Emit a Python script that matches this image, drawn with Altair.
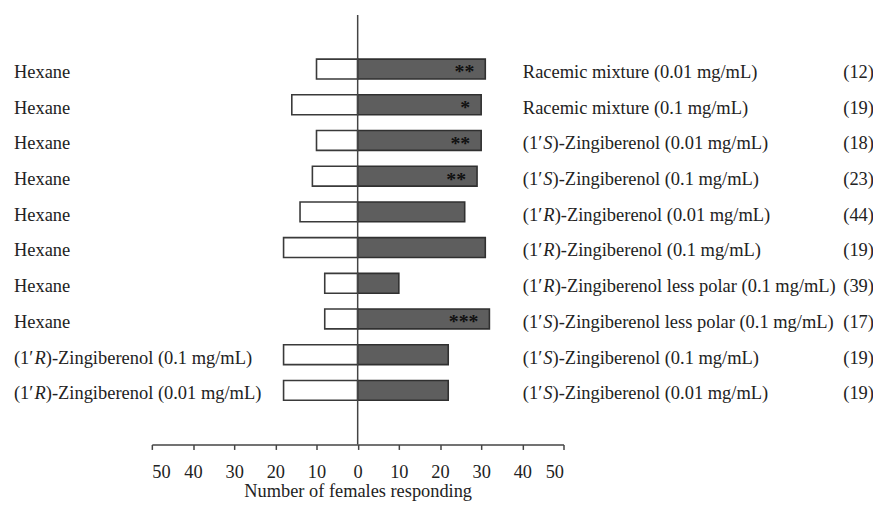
import altair as alt
import pandas as pd

rows = list(range(1, 11))
left_labels = ["Hexane"] * 8 + [
    "(1′R)-Zingiberenol (0.1 mg/mL)",
    "(1′R)-Zingiberenol (0.01 mg/mL)",
]
right_labels = [
    "Racemic mixture (0.01 mg/mL)",
    "Racemic mixture (0.1 mg/mL)",
    "(1′S)-Zingiberenol (0.01 mg/mL)",
    "(1′S)-Zingiberenol (0.1 mg/mL)",
    "(1′R)-Zingiberenol (0.01 mg/mL)",
    "(1′R)-Zingiberenol (0.1 mg/mL)",
    "(1′R)-Zingiberenol less polar (0.1 mg/mL)",
    "(1′S)-Zingiberenol less polar (0.1 mg/mL)",
    "(1′S)-Zingiberenol (0.1 mg/mL)",
    "(1′S)-Zingiberenol (0.01 mg/mL)",
]
counts = ["(12)", "(19)", "(18)", "(23)", "(44)", "(19)", "(39)", "(17)", "(19)", "(19)"]
left_values = [10, 16, 10, 11, 14, 18, 8, 8, 18, 18]
right_values = [31, 30, 30, 29, 26, 31, 10, 32, 22, 22]
signif = ["**", "*", "**", "**", "", "", "", "***", "", ""]
x_ticks = [-50, -40, -30, -20, -10, 0, 10, 20, 30, 40, 50]

PREFIX = "(1′"


def split_label(s):
    """Split '(1′R)-...' into prefix, italic stereo letter, rest."""
    if s.startswith(PREFIX):
        return PREFIX, s[len(PREFIX)], s[len(PREFIX) + 1:]
    return s, "", ""


recs = []
for side, labels in (("L", left_labels), ("R", right_labels)):
    for r, lab in zip(rows, labels):
        a, b, c = split_label(lab)
        recs.append({"row": r, "side": side, "head": a, "ital": b, "tail": c})
lab_df = pd.DataFrame(recs)

df = pd.DataFrame({
    "row": rows,
    "count": counts,
    "left_neg": [-v for v in left_values],
    "right": right_values,
    "sig": signif,
    "zero": [0] * len(rows),
})

FONT = "Liberation Serif"
TXT = "#222222"
FS = 18.6

xscale = alt.Scale(domain=[-50, 50], nice=False, zero=False)
y_domain = [0] + rows + [11]  # one empty slot above and below
yenc = alt.Y("row:O", scale=alt.Scale(domain=y_domain, paddingInner=0.444, paddingOuter=0.237), axis=None)

base = alt.Chart(df)

left_bars = base.mark_bar(fill="white", stroke="#3a3a3a", strokeWidth=1.6).encode(
    x=alt.X("left_neg:Q", scale=xscale,
            axis=alt.Axis(values=x_ticks, labelExpr="abs(datum.value)", grid=False,
                          title="Number of females responding",
                          domainColor="#444", domainWidth=1.5, tickColor="#444", tickWidth=1.5,
                          tickSize=5, labelPadding=13, labelFontSize=18.5, labelColor=TXT,
                          labelFont=FONT, titleFont=FONT, titleFontSize=18.5, titleFontWeight="normal",
                          titleColor=TXT, titleBaseline="alphabetic", titleY=52)),
    x2="zero:Q",
    y=yenc,
)

right_bars = base.mark_bar(fill="#5e5e5e", stroke="#303030", strokeWidth=1.6).encode(
    x=alt.X("zero:Q", scale=xscale),
    x2="right:Q",
    y=yenc,
)

center = base.mark_rule(color="#444", strokeWidth=1.5).encode(
    x=alt.X("z:Q", scale=xscale)
).transform_calculate(z="0").transform_filter("datum.row == 1")

stars = base.mark_text(font=FONT, fontSize=20, fontWeight="bold", color="#111",
                       align="right", baseline="alphabetic", dx=-11, dy=9.5).encode(
    x=alt.X("right:Q", scale=xscale),
    y=yenc,
    text="sig:N",
)

count_text = base.mark_text(font=FONT, fontSize=FS, color=TXT, align="left",
                            baseline="alphabetic", dy=9).encode(
    x=alt.value(697), y=yenc, text="count:N")

lab_base = alt.Chart(lab_df)
w_prefix = (0.333 + 0.5 + 0.28) * FS
w_ital = {"R": 0.611 * FS, "S": 0.5 * FS}

label_layers = []
for side in ("L", "R"):
    xv = -139 if side == "L" else 374
    sb = lab_base.transform_filter(alt.datum.side == side)
    label_layers.append(sb.mark_text(font=FONT, fontSize=FS, color=TXT, align="left",
                                     baseline="alphabetic", dy=9).encode(
        x=alt.value(xv), y=yenc, text="head:N"))
    label_layers.append(sb.mark_text(font=FONT, fontSize=FS, fontStyle="italic", color=TXT,
                                     align="left", baseline="alphabetic", dy=9, dx=w_prefix).encode(
        x=alt.value(xv), y=yenc, text="ital:N"))
    for letter, w in w_ital.items():
        label_layers.append(sb.transform_filter(alt.datum.ital == letter).mark_text(
            font=FONT, fontSize=FS, color=TXT, align="left", baseline="alphabetic",
            dy=9, dx=w_prefix + w).encode(x=alt.value(xv), y=yenc, text="tail:N"))

chart = alt.layer(left_bars, right_bars, center, stars, count_text, *label_layers).properties(
    width=415,
    height=433,
    padding={"left": 145, "top": 5, "right": 312, "bottom": 59},
    autosize=alt.AutoSizeParams(type="none"),
).configure(background="white").configure_view(stroke=None)

chart.save("out.html", embed_options={"renderer": "svg", "actions": False})
